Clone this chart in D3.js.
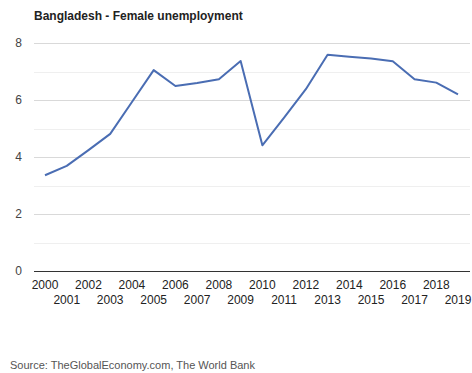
<!DOCTYPE html>
<html>
<head>
	<title>Bangladesh - Female unemployment</title>
	<script src="https://d3js.org/d3.v7.min.js"></script>
	<style>
		body { margin: 0; background: #fff; }
		text { font-family: "Liberation Sans", Arial, sans-serif; }
	</style>
</head>
<body>
<section id="container"></section>
<script>

//Chart data
var years = [2000, 2001, 2002, 2003, 2004, 2005, 2006, 2007, 2008, 2009,
	2010, 2011, 2012, 2013, 2014, 2015, 2016, 2017, 2018, 2019];
var unemployment = [3.36, 3.69, 4.24, 4.81, 5.93, 7.05, 6.49, 6.6, 6.73, 7.37,
	4.41, 5.38, 6.38, 7.59, 7.52, 7.46, 7.36, 6.73, 6.61, 6.2];
var yTicks = [0, 2, 4, 6, 8];
var yMinor = [1, 3, 5, 7];

var svgWidth = 472;
var svgHeight = 373;

var svg = d3.select("#container")
	.append("svg")
	.attr("width", svgWidth)
	.attr("height", svgHeight);

//Plot area
var plotLeft = 34, plotRight = 470, plotTop = 43, plotBottom = 271;

var x = d3.scalePoint()
	.domain(years)
	.range([45, 458]);

var y = d3.scaleLinear()
	.domain([0, 8])
	.range([plotBottom, plotTop]);

//Title
svg.append("text")
	.attr("x", 34)
	.attr("y", 20)
	.attr("font-size", 12)
	.attr("font-weight", "bold")
	.attr("fill", "#222")
	.text("Bangladesh - Female unemployment");

//Minor gridlines
svg.selectAll(".minor")
	.data(yMinor)
	.enter()
	.append("line")
	.attr("x1", plotLeft)
	.attr("x2", plotRight)
	.attr("y1", function(d) { return Math.round(y(d)) + 0.5; })
	.attr("y2", function(d) { return Math.round(y(d)) + 0.5; })
	.attr("stroke", "#efefef");

//Major gridlines
svg.selectAll(".major")
	.data(yTicks.slice(1))
	.enter()
	.append("line")
	.attr("x1", plotLeft)
	.attr("x2", plotRight)
	.attr("y1", function(d) { return Math.round(y(d)) + 0.5; })
	.attr("y2", function(d) { return Math.round(y(d)) + 0.5; })
	.attr("stroke", "#d9d9d9");

//Y axis labels
svg.selectAll(".ylab")
	.data(yTicks)
	.enter()
	.append("text")
	.attr("x", 22)
	.attr("y", function(d) { return y(d) + 4; })
	.attr("text-anchor", "end")
	.attr("font-size", 12)
	.attr("fill", "#444")
	.text(function(d) { return d; });

//Baseline
svg.append("line")
	.attr("x1", plotLeft)
	.attr("x2", plotRight)
	.attr("y1", plotBottom + 0.5)
	.attr("y2", plotBottom + 0.5)
	.attr("stroke", "#333");

//X axis labels, staggered
svg.selectAll(".xlab")
	.data(years)
	.enter()
	.append("text")
	.attr("x", function(d) { return x(d); })
	.attr("y", function(d, i) { return i % 2 === 0 ? 289 : 304; })
	.attr("text-anchor", "middle")
	.attr("font-size", 12)
	.attr("fill", "#222")
	.text(function(d) { return d; });

//Data line
var line = d3.line()
	.x(function(d, i) { return x(years[i]); })
	.y(function(d) { return y(d); });

svg.append("path")
	.datum(unemployment)
	.attr("d", line)
	.attr("fill", "none")
	.attr("stroke", "#4a6db3")
	.attr("stroke-width", 2)
	.attr("stroke-linejoin", "round");

//Source
svg.append("text")
	.attr("x", 10)
	.attr("y", 369)
	.attr("font-size", 11)
	.attr("fill", "#555")
	.text("Source: TheGlobalEconomy.com, The World Bank");

</script>
</body>
</html>
